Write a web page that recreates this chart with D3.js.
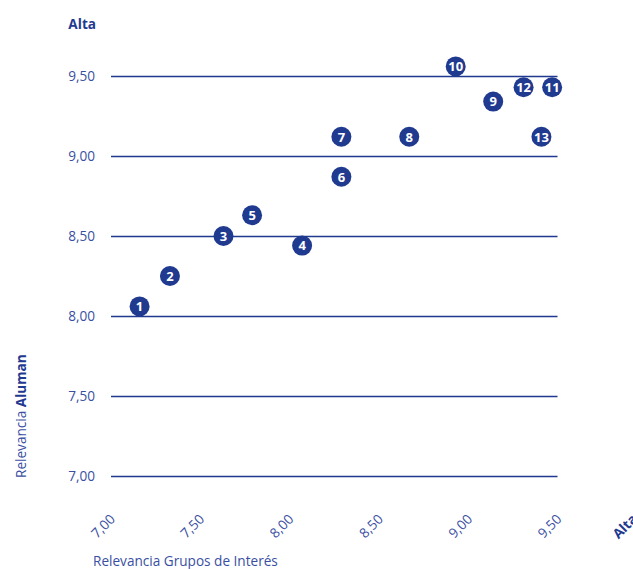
<!DOCTYPE html>
<html><head><meta charset="utf-8">
<script src="https://cdn.jsdelivr.net/npm/d3@7"></script>
<style>
body{margin:0;background:#fff;}
text{font-family:"Open Sans",sans-serif;}
</style></head>
<body><svg id="c" width="633" height="569"></svg>
<script>
const ids = [1,2,3,4,5,6,7,8,9,10,11,12,13];
const xVals = [7.16,7.33,7.63,8.07,7.79,8.29,8.29,8.67,9.14,8.93,9.47,9.31,9.41];
const yVals = [8.06,8.25,8.50,8.44,8.63,8.87,9.12,9.12,9.34,9.56,9.43,9.43,9.12];
const tickVals = [7.00,7.50,8.00,8.50,9.00,9.50];
const tickLabels = ["7,00","7,50","8,00","8,50","9,00","9,50"];
const xTitle = "Relevancia Grupos de Interés";
const yTitleA = "Relevancia ", yTitleB = "Aluman";
const highLabel = "Alta";

const navy = "#1f3a8f", label = "#3a4fa2";
const svg = d3.select("#c");
const x = d3.scaleLinear().domain([7,9.5]).range([111,557.5]);
const y = d3.scaleLinear().domain([7,9.5]).range([476,76]);

// gridlines
svg.append("g").selectAll("line").data(tickVals).join("line")
  .attr("x1",111).attr("x2",557.5)
  .attr("y1",d=>y(d)+0.5).attr("y2",d=>y(d)+0.5)
  .attr("stroke",navy).attr("stroke-width",1.3);

// y tick labels
svg.append("g").selectAll("text").data(tickVals).join("text")
  .attr("x",95).attr("y",d=>y(d)+5)
  .attr("text-anchor","end").attr("font-size",13.6).attr("fill",label)
  .text((d,i)=>tickLabels[i]);
svg.append("text").attr("x",96).attr("y",29).attr("text-anchor","end")
  .attr("font-size",13.6).attr("font-weight","bold").attr("fill",navy).text(highLabel);

// x tick labels
svg.append("g").selectAll("text").data(tickVals).join("text")
  .attr("text-anchor","end").attr("font-size",13.6).attr("fill",label)
  .attr("transform",d=>`translate(${x(d)+5},${520}) rotate(-45)`)
  .text((d,i)=>tickLabels[i]);
svg.append("text").attr("text-anchor","end").attr("font-size",13.6)
  .attr("font-weight","bold").attr("fill",navy)
  .attr("transform",`translate(638,520) rotate(-45)`).text(highLabel);

// titles
svg.append("text").attr("x",93).attr("y",566).attr("font-size",13.6)
  .attr("fill",label).text(xTitle);
const yt = svg.append("text").attr("transform","translate(26,478) rotate(-90)")
  .attr("font-size",13.6).attr("fill",label);
yt.append("tspan").text(yTitleA);
yt.append("tspan").attr("font-weight","bold").attr("fill",navy).text(yTitleB);

// points
const g = svg.append("g").selectAll("g").data(ids).join("g")
  .attr("transform",(d,i)=>`translate(${x(xVals[i])},${y(yVals[i])})`);
g.append("circle").attr("r",10).attr("fill",navy);
g.append("text").attr("text-anchor","middle").attr("y",4.8)
  .attr("font-size",13).attr("font-weight","bold").attr("fill","#fff")
  .text(d=>d);
</script></body></html>
